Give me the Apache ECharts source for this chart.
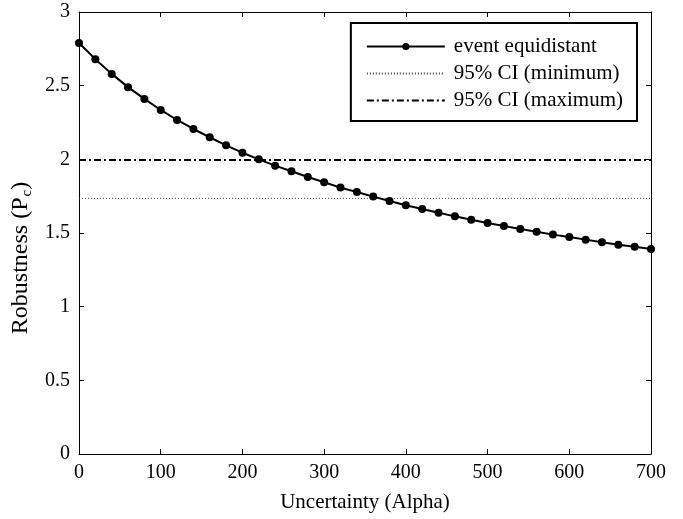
<!DOCTYPE html>
<html>
<head>
<meta charset="utf-8">
<script src="https://cdn.jsdelivr.net/npm/echarts@6/dist/echarts.min.js"></script>
<style>
html,body{margin:0;padding:0;background:#fff;}
#chart{width:683px;height:519px;}
</style>
</head>
<body>
<div id="chart"></div>
<script>
// Data
var alphaValues = [0,20,40,60,80,100,120,140,160,180,200,220,240,260,280,300,320,340,360,380,400,420,440,460,480,500,520,540,560,580,600,620,640,660,680,700];
var robustness = [2.79,2.68,2.58,2.49,2.41,2.335,2.267,2.206,2.150,2.095,2.045,2.000,1.957,1.919,1.880,1.844,1.808,1.778,1.747,1.717,1.688,1.663,1.638,1.613,1.590,1.568,1.548,1.527,1.509,1.489,1.473,1.455,1.437,1.421,1.407,1.391];
var ciMin = 1.735;
var ciMax = 1.995;
var xRange = [0, 700];
var seriesNames = ['event equidistant', '95% CI (minimum)', '95% CI (maximum)'];

var FONT = '"Liberation Serif", "Times New Roman", serif';
var chart = echarts.init(document.getElementById('chart'), null, {renderer: 'canvas'});

var mainData = alphaValues.map(function (a, i) { return [a, robustness[i]]; });
var minData = xRange.map(function (a) { return [a, ciMin]; });
var maxData = xRange.map(function (a) { return [a, ciMax]; });

function axisCommon() {
  return {
    axisLine: {show: true, onZero: false, lineStyle: {color: '#000', width: 1}},
    axisTick: {show: true, inside: true, length: 5, lineStyle: {color: '#000'}},
    splitLine: {show: false}
  };
}

chart.setOption({
  backgroundColor: '#fff',
  animation: false,
  textStyle: {fontFamily: FONT},
  grid: {left: 79, top: 12, right: 32, bottom: 65, containLabel: false},
  legend: {
    orient: 'vertical',
    right: 46,
    top: 23,
    padding: [13, 14, 10, 15],
    itemGap: 6,
    itemWidth: 78,
    itemHeight: 9,
    borderColor: '#000',
    borderWidth: 2,
    backgroundColor: '#fff',
    textStyle: {fontFamily: FONT, fontSize: 21, color: '#000', padding: [0, 0, 0, 4]},
    data: [
      {name: seriesNames[0]},
      {name: seriesNames[1], itemStyle: {opacity: 0}},
      {name: seriesNames[2], itemStyle: {opacity: 0}}
    ]
  },
  xAxis: [
    Object.assign({
      type: 'value', min: 0, max: 700, interval: 100, position: 'bottom',
      axisLabel: {color: '#000', fontFamily: FONT, fontSize: 20, margin: 9},
      name: 'Uncertainty (Alpha)', nameLocation: 'middle', nameGap: 38,
      nameTextStyle: {color: '#000', fontFamily: FONT, fontSize: 21}
    }, axisCommon()),
    Object.assign({
      type: 'value', min: 0, max: 700, interval: 100, position: 'top',
      axisLabel: {show: false}
    }, axisCommon())
  ],
  yAxis: [
    Object.assign({
      type: 'value', min: 0, max: 3, interval: 0.5, position: 'left',
      axisLabel: {color: '#000', fontFamily: FONT, fontSize: 20, margin: 9},
      name: 'Robustness (P{sub|c})', nameLocation: 'middle', nameGap: 43,
      nameTextStyle: {
        color: '#000', fontFamily: FONT, fontSize: 24,
        padding: [0, 50, 0, 0],
        rich: {sub: {fontFamily: FONT, fontSize: 15, color: '#000', padding: [12, 0, 0, 1]}}
      }
    }, axisCommon()),
    Object.assign({
      type: 'value', min: 0, max: 3, interval: 0.5, position: 'right',
      axisLabel: {show: false}
    }, axisCommon())
  ],
  series: [
    {
      name: seriesNames[0], type: 'line', xAxisIndex: 0, yAxisIndex: 0,
      data: mainData,
      symbol: 'circle', symbolSize: 8,
      lineStyle: {color: '#000', width: 2},
      itemStyle: {color: '#000'},
      z: 5
    },
    {
      name: seriesNames[1], type: 'line', xAxisIndex: 0, yAxisIndex: 0,
      data: minData, symbol: 'none',
      lineStyle: {color: '#444', width: 1, type: [1, 2]},
      itemStyle: {color: '#444'}
    },
    {
      name: seriesNames[2], type: 'line', xAxisIndex: 0, yAxisIndex: 0,
      data: maxData, symbol: 'none',
      lineStyle: {color: '#000', width: 2, type: [7, 3, 2, 3]},
      itemStyle: {color: '#000'}
    }
  ]
});
</script>
</body>
</html>
